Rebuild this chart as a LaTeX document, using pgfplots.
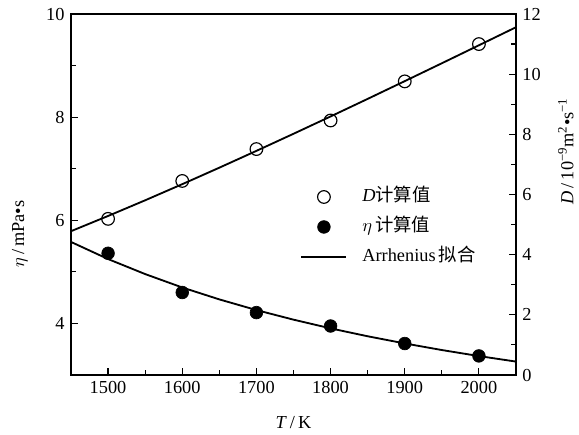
\documentclass[border=0pt]{standalone}
\usepackage{fontspec}
\setmainfont{Liberation Serif}
\newfontfamily\cjk{Noto Sans CJK SC}
\usepackage{pgfplots}
\pgfplotsset{compat=1.18}
\begin{document}
\fontsize{11}{13}\selectfont
\begin{tikzpicture}
\useasboundingbox (-42.6pt,-36pt) rectangle (304.8pt,225pt);
\begin{axis}[
  scale only axis, width=267pt, height=216.6pt,
  xmin=1450, xmax=2050, ymin=3, ymax=10,
  xtick={1500,1600,...,2000}, ytick={4,6,8,10},
  minor x tick num=1, minor y tick num=1,
  xtick pos=bottom, ytick pos=left, tick align=inside,
  major tick length=4pt, minor tick length=3pt,
  axis line style={line width=0.8pt}, every tick/.style={black, line width=0.7pt},
  /pgf/number format/assume math mode=true,
  /pgf/number format/set thousands separator={},
  tick label style={font=\fontsize{11}{13}\selectfont},
  xlabel={\textit{T}\,/\,K},
  xlabel style={at={(axis description cs:0.5,-0.133)}, anchor=center},
  ylabel={$\eta$\,/\,mPa\textbullet s},
  ylabel style={at={(axis description cs:-0.115,0.39)}, anchor=center},
]
\addplot[only marks, mark=*, mark size=3.8pt, black] coordinates {
(1500,5.36) (1600,4.60) (1700,4.21) (1800,3.95) (1900,3.61) (2000,3.37)};
\addplot[black, line width=1.1pt] coordinates {
(1450,5.580) (1500,5.248) (1550,4.957) (1600,4.697) (1650,4.466) (1700,4.259)
(1750,4.073) (1800,3.904) (1850,3.751) (1900,3.612) (1950,3.484) (2000,3.367) (2050,3.260)};
\end{axis}
\begin{axis}[
  scale only axis, width=267pt, height=216.6pt,
  xmin=1450, xmax=2050, ymin=0, ymax=12,
  axis x line=none, axis y line*=right, y axis line style={-, line width=0.8pt},
  ytick={0,2,...,12}, minor y tick num=1, ytick pos=right, tick align=inside,
  major tick length=4pt, minor tick length=3pt,
  every tick/.style={black, line width=0.7pt},
  /pgf/number format/assume math mode=true,
  tick label style={font=\fontsize{11}{13}\selectfont},
  ylabel={\textit{D}\,/\,10\textsuperscript{−9}m\textsuperscript{2}\textbullet s\textsuperscript{−1}},
  ylabel style={at={(axis description cs:1.112,0.62)}, anchor=center},
  legend style={draw=none, fill=none, at={(axis description cs:0.515,0.41)}, anchor=west,
    inner sep=0pt, row sep=8pt, column sep=0pt,
    nodes={inner sep=0pt, text height=8pt, text depth=2pt},
    font=\fontsize{11}{13}\selectfont},
  legend cell align=left,
  legend image code/.code={\draw[mark repeat=2, mark phase=2, #1] plot coordinates {(0pt,0pt) (13.5pt,0pt) (27pt,0pt)}; \path (36pt,0pt);},
]
\addplot[only marks, mark=o, mark size=3.8pt, black, fill=white, forget plot, mark options={fill=white, line width=0.7pt}] coordinates {
(1500,5.19) (1600,6.45) (1700,7.51) (1800,8.46) (1900,9.76) (2000,11.0)};
\addplot[black, line width=1.1pt, forget plot] coordinates {
(1450,4.780) (1500,5.286) (1550,5.807) (1600,6.343) (1650,6.891) (1700,7.450)
(1750,8.018) (1800,8.594) (1850,9.178) (1900,9.768) (1950,10.362) (2000,10.960) (2050,11.560)};
\addplot[only marks, mark=*, mark size=3.8pt, black, fill=white, mark options={fill=white, line width=0.7pt}] coordinates {(1450,20)};
\addlegendentry{\textit{D}\cjk 计算值}
\addplot[only marks, mark=*, mark size=3.8pt, black] coordinates {(1450,20)};
\addlegendentry{$\eta$\,\cjk 计算值}
\addplot[black, line width=1.1pt] coordinates {(1450,20) (1460,20)};
\addlegendentry{Arrhenius\,\cjk 拟合}
\end{axis}
\end{tikzpicture}
\end{document}
